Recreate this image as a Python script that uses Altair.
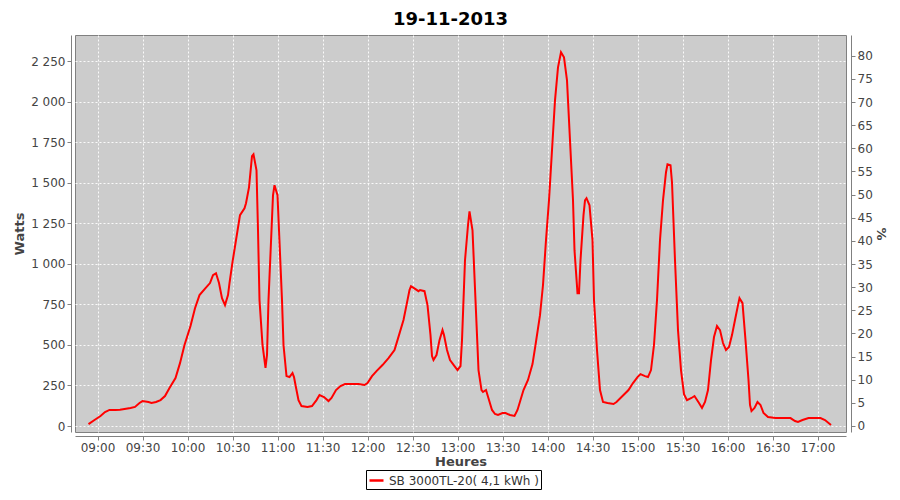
import altair as alt
import pandas as pd

TITLE = "19-11-2013"
SERIES = "SB 3000TL-20( 4,1 kWh )"

times = [
    "08:54", "08:58", "09:02", "09:05", "09:08", "09:12", "09:15", "09:18", "09:22", "09:25",
    "09:28", "09:30", "09:34", "09:36", "09:39", "09:42", "09:45", "09:48", "09:52", "09:55",
    "09:58", "10:02", "10:05", "10:08", "10:12", "10:15", "10:17", "10:19", "10:21", "10:23",
    "10:25", "10:27", "10:28", "10:30", "10:32", "10:35", "10:38", "10:39", "10:41", "10:43",
    "10:44", "10:46", "10:47", "10:48", "10:50", "10:52", "10:53", "10:54", "10:56", "10:57",
    "10:58", "11:00", "11:01", "11:03", "11:04", "11:06", "11:08", "11:10", "11:11", "11:12",
    "11:14", "11:16", "11:20", "11:23", "11:26", "11:28", "11:31", "11:34", "11:36", "11:39",
    "11:42", "11:45", "11:50", "11:54", "11:58", "12:00", "12:03", "12:06", "12:10", "12:14",
    "12:18", "12:20", "12:24", "12:26", "12:28", "12:29", "12:31", "12:34", "12:35", "12:38",
    "12:40", "12:42", "12:43", "12:44", "12:46", "12:48", "12:50", "12:51", "12:53", "12:55",
    "12:58", "13:00", "13:02", "13:03", "13:05", "13:07", "13:08", "13:10", "13:12", "13:14",
    "13:16", "13:17", "13:19", "13:21", "13:23", "13:25", "13:27", "13:30", "13:32", "13:35",
    "13:38", "13:40", "13:42", "13:44", "13:47", "13:50", "13:52", "13:55", "13:57", "13:59",
    "14:01", "14:03", "14:05", "14:07", "14:09", "14:11", "14:13", "14:15", "14:17", "14:18",
    "14:20", "14:21", "14:22", "14:24", "14:25", "14:26", "14:28", "14:30", "14:31", "14:33",
    "14:35", "14:37", "14:40", "14:44", "14:46", "14:50", "14:54", "14:57", "15:00", "15:02",
    "15:05", "15:07", "15:09", "15:11", "15:13", "15:15", "15:17", "15:19", "15:20", "15:22",
    "15:23", "15:25", "15:27", "15:29", "15:31", "15:33", "15:36", "15:38", "15:41", "15:43",
    "15:45", "15:47", "15:49", "15:51", "15:53", "15:55", "15:57", "15:59", "16:01", "16:03",
    "16:05", "16:07", "16:08", "16:10", "16:12", "16:14", "16:15", "16:16", "16:18", "16:20",
    "16:22", "16:24", "16:27", "16:32", "16:42", "16:45", "16:47", "16:50", "16:54", "17:02",
    "17:05", "17:09",
]

watts = [
    12, 37, 62, 86, 99, 99, 100, 105, 111, 118,
    142, 154, 148, 142, 148, 160, 185, 234, 296, 388,
    500, 617, 727, 808, 851, 882, 931, 943, 882, 789,
    746, 808, 882, 1011, 1128, 1301, 1344, 1375, 1473, 1665,
    1677, 1578, 1208, 777, 500, 358, 438, 777, 1208, 1424,
    1486, 1424, 1208, 777, 500, 308, 302, 327, 302, 253,
    160, 123, 117, 123, 160, 191, 179, 154, 173, 222,
    247, 259, 259, 259, 253, 265, 308, 339, 376, 419,
    469, 530, 654, 746, 839, 863, 851, 832, 839, 832,
    746, 561, 432, 407, 438, 530, 592, 561, 469, 407,
    370, 345, 370, 530, 1023, 1239, 1325, 1208, 777, 345,
    222, 210, 222, 160, 99, 74, 68, 80, 80, 68,
    62, 99, 160, 222, 284, 382, 500, 684, 870, 1147,
    1393, 1702, 2010, 2213, 2306, 2275, 2133, 1763, 1393, 1085,
    820, 820, 1023, 1301, 1393, 1406, 1362, 1147, 777, 469,
    222, 148, 142, 136, 148, 185, 222, 265, 302, 320,
    308, 302, 345, 500, 777, 1147, 1393, 1566, 1615, 1609,
    1504, 1023, 592, 345, 197, 160, 173, 185, 142, 111,
    148, 222, 407, 549, 617, 592, 512, 469, 487, 561,
    654, 746, 789, 758, 530, 284, 130, 92, 111, 148,
    130, 80, 55, 49, 49, 31, 25, 37, 49, 49,
    37, 6,
]

x_ticks = ["09:00", "09:30", "10:00", "10:30", "11:00", "11:30", "12:00", "12:30",
           "13:00", "13:30", "14:00", "14:30", "15:00", "15:30", "16:00", "16:30", "17:00"]
watt_ticks = [0, 250, 500, 750, 1000, 1250, 1500, 1750, 2000, 2250]
pct_ticks = [0, 5, 10, 15, 20, 25, 30, 35, 40, 45, 50, 55, 60, 65, 70, 75, 80]


def dt(hhmm):
    h, m = hhmm.split(":")
    return alt.DateTime(year=2013, month=11, date=19, hours=int(h), minutes=int(m))


df = pd.DataFrame({
    "time": ["2013-11-19T" + t + ":00" for t in times],
    "watts": watts,
    "series": [SERIES] * len(times),
})

pct_df = pd.DataFrame({
    "time": ["2013-11-19T09:00:00", "2013-11-19T17:00:00"],
    "pct": [0, 80],
})

FONT = "DejaVu Sans"

x_enc = alt.X(
    "time:T",
    scale=alt.Scale(domain=[dt("08:45"), dt("17:19")]),
    axis=alt.Axis(
        values=[dt(t) for t in x_ticks], format="%H:%M", title="Heures",
        offset=4, grid=True, labelFlush=False, labelOverlap=False, titlePadding=2,
    ),
)

line = alt.Chart(df).mark_line(strokeWidth=2, clip=True).encode(
    x=x_enc,
    y=alt.Y(
        "watts:Q",
        scale=alt.Scale(domain=[-37, 2413], nice=False, zero=False),
        axis=alt.Axis(
            values=watt_ticks, title="Watts", offset=4, grid=True,
            labelExpr="replace(format(datum.value, ',d'), ',', ' ')",
        ),
    ),
    color=alt.Color(
        "series:N",
        scale=alt.Scale(range=["#FF0000"]),
        legend=alt.Legend(
            title=None, orient="none", legendX=291, legendY=435,
            symbolType="stroke", symbolStrokeWidth=2.5, symbolSize=196,
            labelFontSize=12, labelFont=FONT, labelColor="#333333",
            strokeColor="black", fillColor="white", padding=2,
            cornerRadius=0,
        ),
    ),
)

right = alt.Chart(pct_df).mark_point(opacity=0).encode(
    x=alt.X("time:T"),
    y=alt.Y(
        "pct:Q",
        scale=alt.Scale(domain=[-1.3, 84.5], nice=False, zero=False),
        axis=alt.Axis(orient="right", values=pct_ticks, title="%", grid=False,
                      offset=5, titlePadding=1),
    ),
)

chart = alt.layer(line, right).resolve_scale(y="independent").properties(
    width=771,
    height=397,
    autosize="none",
    padding={"left": 67, "top": 27, "right": 46, "bottom": 58},
    title=alt.Title(
        TITLE, fontSize=18, font=FONT, fontWeight="bold", color="black",
        anchor="middle", offset=6, dx=-10,
    ),
).configure_view(
    fill="#CCCCCC", stroke="#808080", strokeWidth=1,
).configure_axis(
    labelFont=FONT, labelFontSize=12, labelColor="#444444",
    titleFont=FONT, titleFontSize=13, titleFontWeight="bold", titleColor="#444444",
    domainColor="#808080", tickColor="#808080", tickSize=4, labelPadding=2,
    gridColor="white", gridDash=[2, 2], gridWidth=1, gridOpacity=0.9,
)

chart.save("out.html", embed_options={"renderer": "svg", "actions": False})
